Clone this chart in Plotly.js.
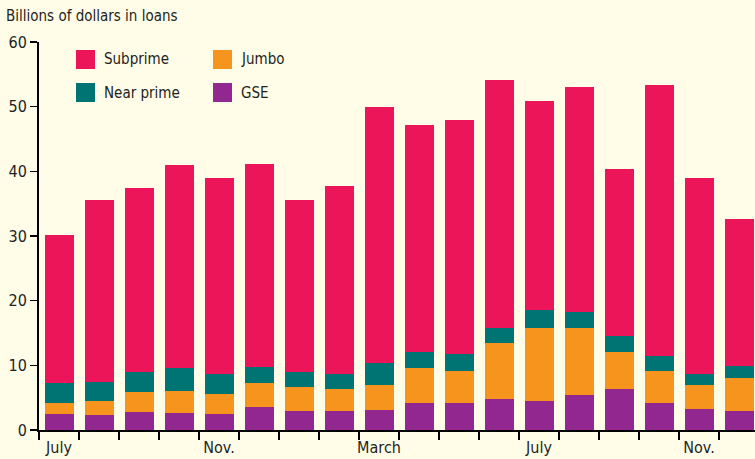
<!DOCTYPE html>
<html>
<head>
<meta charset="utf-8">
<script src="https://cdn.plot.ly/plotly-3.0.1.min.js"></script>
<style>html,body{margin:0;padding:0;background:#fffce8;}#chart{width:755px;height:459px;}</style>
</head>
<body>
<div id="chart"></div>
<script>
// Data (billions of dollars in loans), 18 periods
const periods = [0,1,2,3,4,5,6,7,8,9,10,11,12,13,14,15,16,17];
const gse       = [2.55,2.25,2.85,2.7,2.55,3.6,3.0,3.0,3.15,4.25,4.25,4.85,4.55,5.35,6.4,4.1,3.3,3.0];
const jumbo     = [1.55,2.3,2.95,3.4,2.95,3.6,3.6,3.3,3.85,5.4,4.95,8.55,11.3,10.35,5.7,4.95,3.6,5.0];
const nearPrime = [3.1,2.95,3.1,3.55,3.1,2.6,2.3,2.4,3.4,2.45,2.5,2.45,2.65,2.6,2.4,2.35,1.8,1.95];
const subprime  = [23.0,28.0,28.6,31.4,30.4,31.4,26.6,29.1,39.5,35.1,36.3,38.35,32.3,34.7,25.8,42.0,30.3,22.75];
const monthPos    = [0,4,8,12,16];
const monthLabels = ["July","Nov.","March","July","Nov."];
const seriesNames = ["GSE","Jumbo","Near prime","Subprime"];
const seriesColors = ["#92278f","#f7941d","#007373","#ed1559"];

const FONT = "Liberation Sans Narrow, Arial Narrow, DejaVu Sans Condensed, sans-serif";
const TXT = "#231f20";

const values = [gse, jumbo, nearPrime, subprime];
const traces = values.map((v,i)=>({
  type:"bar", x:periods, y:v, name:seriesNames[i],
  marker:{color:seriesColors[i], line:{width:0}},
  showlegend:false, hoverinfo:"y+name"
}));
// invisible trace to bring the label axis to life
traces.push({type:"scatter", x:[periods[0]], y:[0], xaxis:"x2", mode:"markers",
  marker:{opacity:0}, showlegend:false, hoverinfo:"skip"});

const boundaries = periods.map(p=>p-0.5);

// custom legend: two columns
const legendOrder = [[3,"Subprime"],[1,"Jumbo"],[2,"Near prime"],[0,"GSE"]];
const legendPos = [[76,50],[213,50],[76,83],[213,83]];
const shapes = [], annotations = [];
const W=755, H=459;
legendOrder.forEach((o,k)=>{
  const [px,py] = legendPos[k];
  shapes.push({type:"rect", xref:"paper", yref:"paper",
    x0:(px-39)/716, x1:(px+19-39)/716, y0:(430-py-19)/388, y1:(430-py)/388,
    fillcolor:seriesColors[o[0]], line:{width:0}});
  annotations.push({xref:"paper", yref:"paper", x:(px+26-39)/716, y:(430-py-9.5)/388,
    xanchor:"left", yanchor:"middle", showarrow:false, text:o[1],
    font:{family:FONT, size:15, color:TXT}});
});

const range = [-0.5, 17.4];
const layout = {
  width:W, height:H,
  margin:{l:39, r:0, t:42, b:29},
  paper_bgcolor:"#fffce8", plot_bgcolor:"#fffce8",
  barmode:"stack", bargap:0.275,
  font:{family:FONT, size:16, color:TXT},
  title:{text:"Billions of dollars in loans", x:6/W, xanchor:"left", xref:"container",
    y:1-16/H, yanchor:"middle", yref:"container", font:{family:FONT, size:15, color:TXT}},
  xaxis:{range:range, tickmode:"array", tickvals:boundaries, showticklabels:false,
    ticks:"outside", ticklen:8, tickwidth:1.5, tickcolor:"#000",
    showline:true, linecolor:"#000", linewidth:2, showgrid:false, zeroline:false, fixedrange:true},
  xaxis2:{range:range, overlaying:"x", anchor:"y", side:"bottom", tickmode:"array",
    tickvals:monthPos, ticktext:monthLabels, ticks:"", showline:false, showgrid:false,
    zeroline:false, ticklabelstandoff:6, tickfont:{family:FONT, size:16, color:TXT}},
  yaxis:{range:[0,60], tickmode:"array", tickvals:[0,10,20,30,40,50,60],
    ticks:"outside", ticklen:7, tickwidth:1.5, tickcolor:"#000",
    showline:true, linecolor:"#000", linewidth:2, showgrid:false, zeroline:false,
    tickfont:{family:FONT, size:16, color:TXT}},
  shapes:shapes, annotations:annotations
};
Plotly.newPlot("chart", traces, layout, {displayModeBar:false, staticPlot:true});
</script>
</body>
</html>
